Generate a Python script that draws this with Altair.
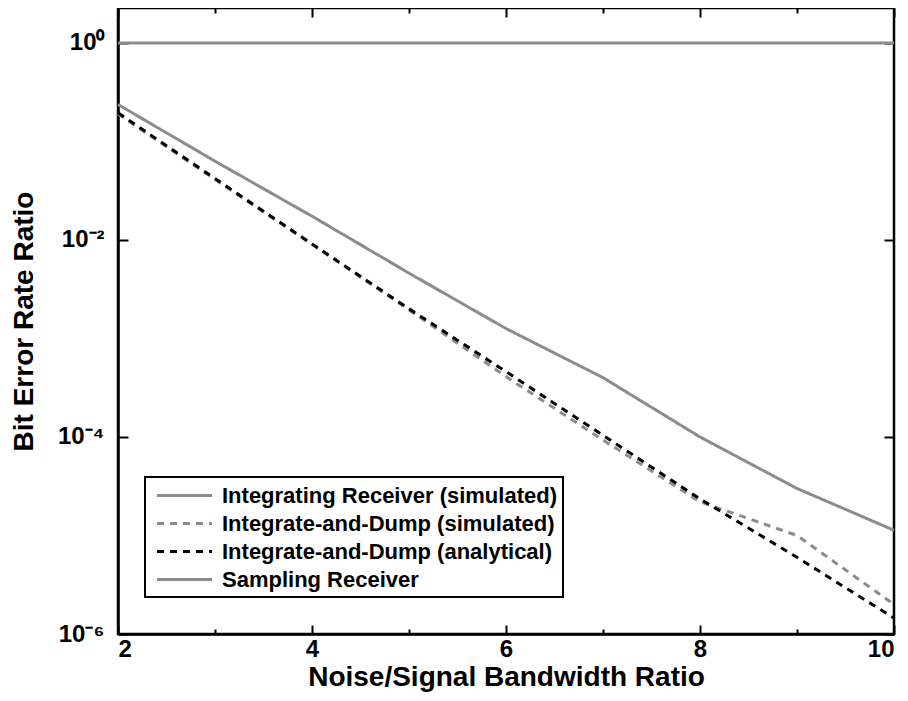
import altair as alt
import pandas as pd
import math

# ---- data ----
x_values = [2, 3, 4, 5, 6, 7, 8, 9, 10]
integrating_sim = [0.237, 0.063, 0.0174, 0.0046, 0.00126, 0.00040, 0.000100, 3.0e-5, 1.13e-5]
dump_sim = [0.19, 0.041, 0.0090, 0.00195, 0.00041, 9.3e-5, 2.2e-5, 1.0e-5, 2.0e-6]
dump_analytical = [0.195, 0.042, 0.0091, 0.0020, 0.00046, 0.000104, 2.35e-5, 6.0e-6, 1.45e-6]
sampling = [1, 1, 1, 1, 1, 1, 1, 1, 1]

series_names = [
    "Integrating Receiver (simulated)",
    "Integrate-and-Dump (simulated)",
    "Integrate-and-Dump (analytical)",
    "Sampling Receiver",
]
series_values = [integrating_sim, dump_sim, dump_analytical, sampling]
series_colors = ["#8c8c8c", "#8c8c8c", "#000000", "#8c8c8c"]
series_dashes = [[1, 0], [7, 6], [7, 6], [1, 0]]

x_tick_values = [2, 3, 4, 5, 6, 7, 8, 9, 10]
x_label_values = [2, 4, 6, 8, 10]
y_tick_values = [1, 1e-2, 1e-4, 1e-6]
y_tick_labels = ["10⁰", "10⁻²", "10⁻⁴", "10⁻⁶"]

x_title = "Noise/Signal Bandwidth Ratio"
y_title = "Bit Error Rate Ratio"

# ---- build table ----
rows = []
draw_order = [0, 3, 1, 2]
for i in draw_order:
    for xv, yv in zip(x_values, series_values[i]):
        rows.append({"x": xv, "ber": yv, "series": series_names[i], "ord": draw_order.index(i)})
df = pd.DataFrame(rows)

W, H = 776, 626
FONT = "Liberation Sans"

x_scale = alt.Scale(domain=[2, 10], nice=False, zero=False)
y_scale = alt.Scale(type="log", domain=[1e-6, 2.26], nice=False)

# label expression built from the tick arrays
expr = "''"
for v, lab in zip(reversed(y_tick_values), reversed(y_tick_labels)):
    expr = f"abs(log(datum.value)/LN10 - ({math.log10(v):.0f})) < 0.1 ? '{lab}' : {expr}"

legend = alt.Legend(
    title=None, orient="none", legendX=27, legendY=469,
    symbolType="M-2.5,0L2.5,0", symbolSize=484, symbolStrokeWidth=3,
    labelFontSize=22, labelFont=FONT, labelFontWeight="bold", labelColor="black",
    labelLimit=0, labelOffset=25, symbolOffset=21, rowPadding=4, padding=6,
    strokeColor="black", fillColor="white",
)

color = alt.Color("series:N", scale=alt.Scale(domain=series_names, range=series_colors), legend=legend)
dash = alt.StrokeDash("series:N", scale=alt.Scale(domain=series_names, range=series_dashes), legend=legend)

lines = alt.Chart(df).mark_line(strokeWidth=3, strokeCap="butt").encode(
    x=alt.X("x:Q", scale=x_scale, axis=alt.Axis(
        orient="bottom", values=x_label_values, format="d", ticks=False,
        labelPadding=3, labelFontSize=24, labelFont=FONT, labelFontWeight="bold",
        labelColor="black", title=x_title, titleFontSize=28, titleFont=FONT,
        titleFontWeight="bold", titleColor="black", titlePadding=2,
        domainColor="black", domainWidth=2.5, grid=False)),
    y=alt.Y("ber:Q", scale=y_scale, axis=alt.Axis(
        orient="left", values=y_tick_values, labelExpr=expr, ticks=False,
        labelPadding=14, labelFontSize=24, labelFont=FONT, labelFontWeight="bold",
        labelColor="black", title=y_title, titleFontSize=28, titleFont=FONT,
        titleFontWeight="bold", titleColor="black", titlePadding=19,
        domainColor="black", domainWidth=2.5, grid=False)),
    color=color,
    strokeDash=dash,
    order=alt.Order("ord:Q"),
)

tick_size_x = {"condition": {"test": "datum.value % 2 == 0", "value": 9}, "value": 5}

ticks_in_a = alt.Chart(df).mark_line(opacity=0).encode(
    x=alt.X("x:Q", scale=x_scale, axis=alt.Axis(
        orient="top", offset=-H, values=x_tick_values, labels=False, domain=False,
        tickSize=tick_size_x, tickWidth=2, tickColor="black", title=None, grid=False)),
    y=alt.Y("ber:Q", scale=y_scale, axis=alt.Axis(
        orient="right", offset=-W, values=y_tick_values, labels=False, domain=False,
        tickSize=10, tickWidth=2, tickColor="black", title=None, grid=False)),
)

ticks_in_b = alt.Chart(df).mark_line(opacity=0).encode(
    x=alt.X("x:Q", scale=x_scale, axis=alt.Axis(
        orient="bottom", offset=-H, values=x_tick_values, labels=False, domain=False,
        tickSize=tick_size_x, tickWidth=2, tickColor="black", title=None, grid=False)),
    y=alt.Y("ber:Q", scale=y_scale, axis=alt.Axis(
        orient="left", offset=-W, values=y_tick_values, labels=False, domain=False,
        tickSize=10, tickWidth=2, tickColor="black", title=None, grid=False)),
)

chart = alt.layer(ticks_in_a, ticks_in_b, lines).resolve_axis(
    x="independent", y="independent"
).properties(
    width=W, height=H,
    autosize=alt.AutoSizeParams(type="none"),
    padding={"left": 110, "top": 0, "right": 6, "bottom": 58},
).configure(font=FONT).configure_view(
    stroke="black", strokeWidth=2.5
).configure_legend(strokeWidth=2)

chart.save("out.html", embed_options={"renderer": "svg", "actions": False})
